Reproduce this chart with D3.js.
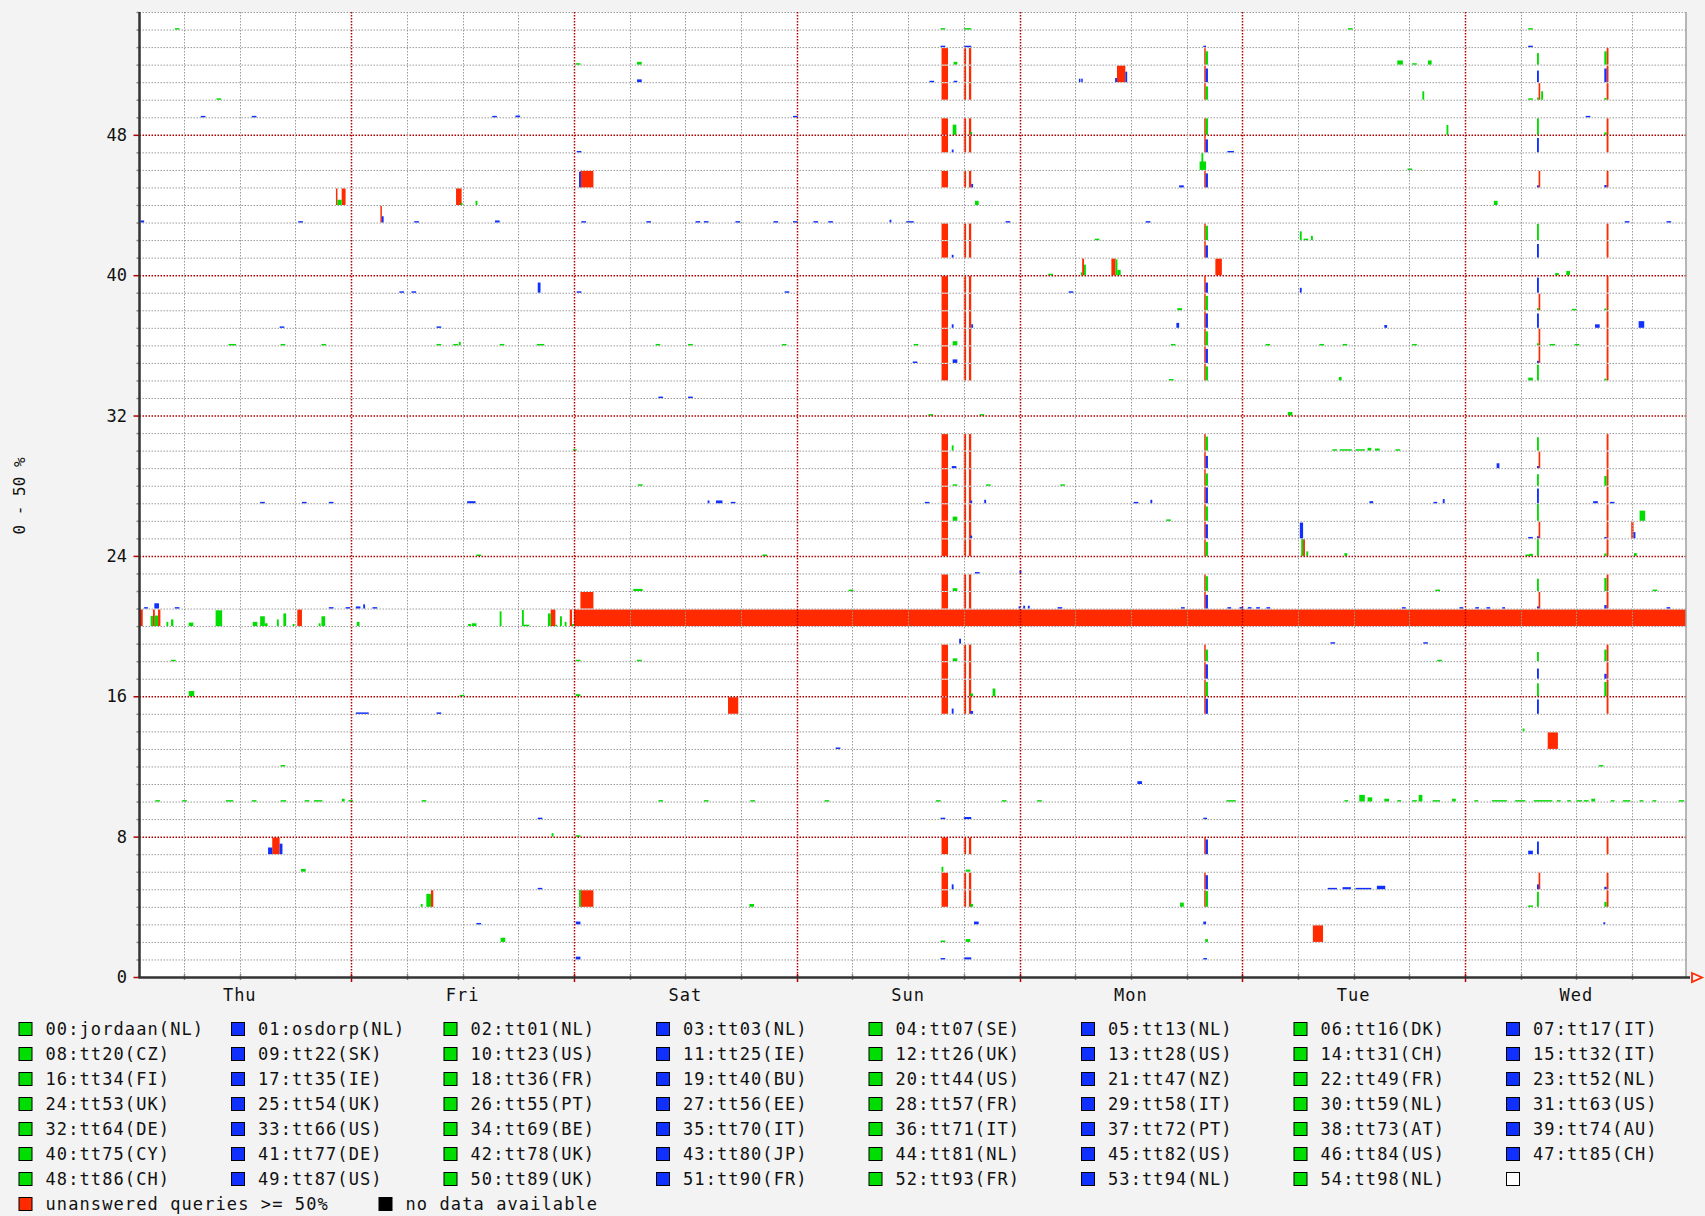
<!DOCTYPE html>
<html><head><meta charset="utf-8">
<script src="https://cdn.jsdelivr.net/npm/d3@7"></script>
<style>body{margin:0;background:#f3f3f3;overflow:hidden}</style>
</head><body><svg id="c" width="1705" height="1216"></svg>
<script>
// ---------- data ----------
const hosts = ["jordaan(NL)","osdorp(NL)","tt01(NL)","tt03(NL)","tt07(SE)","tt13(NL)","tt16(DK)","tt17(IT)",
"tt20(CZ)","tt22(SK)","tt23(US)","tt25(IE)","tt26(UK)","tt28(US)","tt31(CH)","tt32(IT)",
"tt34(FI)","tt35(IE)","tt36(FR)","tt40(BU)","tt44(US)","tt47(NZ)","tt49(FR)","tt52(NL)",
"tt53(UK)","tt54(UK)","tt55(PT)","tt56(EE)","tt57(FR)","tt58(IT)","tt59(NL)","tt63(US)",
"tt64(DE)","tt66(US)","tt69(BE)","tt70(IT)","tt71(IT)","tt72(PT)","tt73(AT)","tt74(AU)",
"tt75(CY)","tt77(DE)","tt78(UK)","tt80(JP)","tt81(NL)","tt82(US)","tt84(US)","tt85(CH)",
"tt86(CH)","tt87(US)","tt89(UK)","tt90(FR)","tt93(FR)","tt94(NL)","tt98(NL)"];
const dayLabels = ["Thu","Fri","Sat","Sun","Mon","Tue","Wed"];
const yTickLabels = [0,8,16,24,32,40,48];
const hourDomain = [1.2, 167.8];            // hours since Thu 00:00
const yAxisTitle = "0 - 50 %";
const legendExtra = ["unanswered queries >= 50%","no data available"];

// unanswered >= 50% : [host, startHour, endHour]
const outages = [
 [20,1.2,1.55],[20,2.65,2.85],[20,3.2,3.45],[20,18.2,18.7],[20,45.5,46.0],[20,47.55,47.8],[20,48.0,167.8],
 [44,22.36,22.52],[44,22.98,23.4],[43,27.15,27.3],[44,35.3,35.9],[45,48.7,50.1],[21,48.7,50.1],[4,48.7,50.1],
 [7,15.5,16.3],[4,32.6,32.85],[15,64.6,65.7],[51,106.5,107.4],[40,102.75,102.95],[40,105.9,106.35],
 [40,117.1,117.8],[24,126.55,126.75],[2,127.6,128.7],[13,152.9,154.0],[25,161.9,162.15]
];
// hosts that failed together
const outageGroup = [4,5,7,15,16,17,18,21,22,24,25,26,27,28,29,30,34,35,36,37,38,39,41,42,45,47,48,50,51,52];
const groupOutageSpans = [[87.6,88.3],[90.0,90.25],[90.55,90.8],[115.9,116.05],[159.25,159.45]];
const monColSpan = [116.05,116.3];
const monColPct  = [45,40,42,43,41,41,33,39,42,40,40,41,45,35,35,40,40,40,40,41,41,29,35,41,40,37,47,38,39,38];
const wedColSpan = [151.75,151.95];
const wedColPct  = [43,14,36,41,37,29,26,6,35,48,6,48,42,33,6,38,45,6,6,41,6,43,39,46,6,41,47,6,33,33];
const wedRedSpan = [151.92,152.1];
const wedRedHosts = [50,45,38,36,35,29,25,21,5];
const wed2ColSpan = [159.0,159.25];
const wed2ColPct = [14,7,0,0,41,14,33,10,37,7,4,0,0,28,0,0,5,0,0,0,5,0,0,0,7,0,7,5,39,38];

// answered-but-lost percentage (0-50): [host, startHour, endHour, pct]
const samples = [
 [54,5.0,5.5,4],[52,48.2,48.7,4],[52,54.8,55.3,8],[51,54.8,55.3,8],[50,9.5,10.0,4],[49,7.8,8.3,4],[49,13.3,13.8,4],
 [49,39.2,39.7,4],[49,41.7,42.2,5],[47,48.3,48.8,4],[45,48.55,48.75,45],[44,22.52,22.98,15],[43,27.3,27.5,18],
 [44,35.8,36.0,6],[44,37.4,37.6,12],[43,1.3,1.7,6],[43,18.3,18.8,4],[43,30.8,31.3,4],[43,39.5,40.0,6],[43,48.8,49.3,4],
 [43,55.8,56.3,4],[39,29.2,29.7,4],[39,30.5,31.0,4],[39,44.1,44.4,29],[39,48.3,48.8,4],[37,16.3,16.8,4],[37,33.2,33.7,4],
 [36,10.8,11.6,4],[36,16.4,16.9,4],[36,20.8,21.3,4],[36,33.2,33.7,4],[36,35.0,35.5,4],[36,35.6,35.8,10],[36,40.0,40.5,4],
 [36,44.0,44.8,4],[36,56.8,57.3,4],[30,47.9,48.3,4],[28,54.9,55.4,4],
 [27,14.2,14.7,4],[27,18.7,19.2,4],[27,21.6,22.1,4],[27,36.5,37.4,6],[24,37.5,38.0,4],[22,54.4,55.4,6],
 [21,1.7,2.1,4],[21,2.8,3.3,15],[21,5.0,5.5,4],[21,21.6,22.1,4],[21,23.4,23.9,4],[21,24.5,25.0,6],[21,25.3,25.5,12],[21,26.3,26.8,4],
 [20,2.4,2.65,29],[20,2.85,3.2,30],[20,4.1,4.3,12],[20,4.6,4.85,19],[20,6.5,7.0,10],[20,9.4,10.1,45],[20,13.4,13.9,12],
 [20,14.2,14.7,28],[20,14.7,15.0,8],[20,16.0,16.2,19],[20,16.7,17.0,36],[20,17.7,17.9,6],[20,20.8,21.2,28],[20,20.5,20.7,8],
 [20,24.6,24.9,12],[20,36.6,36.9,6],[20,37.0,37.5,8],[20,40.0,40.2,42],[20,42.4,42.6,46],[20,42.6,43.2,4],[20,45.2,45.5,36],
 [20,46.0,46.2,4],[20,46.5,46.7,28],[20,47.0,47.2,12],[20,47.8,48.0,6],
 [18,4.6,5.1,4],[18,48.2,48.7,4],[18,54.8,55.3,4],[16,6.5,7.1,15],[16,35.7,36.2,4],[16,48.2,48.7,6],[15,24.5,25.9,4],[15,33.2,33.7,4],
 [12,16.4,16.9,4],[10,2.9,3.4,4],[10,5.8,6.3,4],[10,10.5,11.3,4],[10,13.3,13.8,4],[10,16.4,17.0,4],[10,19.0,19.5,4],[10,20.0,20.9,4],
 [10,23.0,23.3,8],[10,23.7,24.2,4],[10,31.6,32.1,4],[9,44.1,44.6,4],[7,15.05,15.5,19],[7,16.3,16.6,30],[8,45.6,45.8,10],[8,48.2,48.7,4],
 [6,18.6,19.1,8],[5,44.1,44.6,4],[4,31.5,31.7,8],[4,32.1,32.6,37],[4,48.55,48.75,48],[3,37.5,38.0,4],[3,48.2,48.7,8],[2,40.1,40.6,12],[1,48.2,48.7,8],
 [54,87.5,88.0,4],[54,90.0,90.8,4],[53,87.5,88.0,4],[53,90.0,90.8,4],[52,88.9,89.3,8],[51,86.3,86.8,4],[51,88.9,89.3,4],[49,71.6,72.1,4],
 [48,88.8,89.2,29],[48,90.7,90.9,8],[47,88.7,88.9,8],[45,90.8,91.0,10],[44,91.2,91.6,12],
 [43,61.1,61.6,4],[43,62.0,62.5,4],[43,65.4,65.9,4],[43,69.5,70.0,4],[43,71.6,72.1,4],[43,73.8,74.3,4],[43,75.4,75.9,4],[43,82.0,82.2,8],
 [43,83.8,84.6,4],[43,94.5,95.0,4],[43,109.6,110.1,4],[41,88.7,88.9,8],[42,104.1,104.6,4],
 [40,102.6,102.75,8],[40,102.95,103.15,30],[40,106.35,106.55,45],[40,106.55,106.9,15],[40,99.1,99.6,4],[39,70.7,71.2,4],[39,101.3,101.8,4],
 [51,102.4,102.55,10],[51,102.65,102.8,10],[51,106.3,106.5,12],[51,107.4,107.6,30],
 [37,88.7,88.9,10],[37,90.8,91.0,10],[36,60.3,60.8,4],[36,70.4,70.9,4],[36,84.6,85.1,4],[36,88.8,89.3,12],[36,112.3,112.8,4],
 [35,84.5,85.0,4],[35,88.8,89.3,10],[34,112.1,112.6,4],[33,57.1,57.6,4],[33,60.3,60.8,4],[32,86.2,86.7,4],[32,91.7,92.2,4],
 [30,88.7,88.9,15],[29,88.7,89.2,6],[28,88.8,89.3,4],[28,92.4,92.9,4],[28,100.4,100.9,4],
 [27,62.4,62.6,8],[27,63.3,64.0,8],[27,64.9,65.4,4],[27,85.8,86.3,4],[27,90.7,90.9,8],[27,92.2,92.4,10],[27,108.3,108.8,4],[27,110.1,110.3,10],
 [26,88.8,89.3,12],[26,111.8,112.3,4],[25,90.7,90.9,8],[24,68.3,68.8,4],[23,91.2,91.7,4],[23,96.0,96.2,8],[22,77.6,78.1,4],[22,88.8,89.3,8],
 [21,95.9,96.1,6],[21,96.4,96.6,8],[21,96.9,97.1,8],[21,100.1,100.6,4],[19,89.5,89.7,14],[18,88.8,89.3,8],[16,93.1,93.4,22],[16,90.7,91.0,8],
 [15,88.7,88.9,15],[15,90.7,91.0,8],[13,76.2,76.7,4],[11,108.7,109.2,8],
 [10,57.1,57.6,4],[10,62.0,62.5,4],[10,67.0,67.5,4],[10,75.0,75.5,4],[10,87.0,87.5,4],[10,94.1,94.6,4],[10,97.9,98.4,4],
 [9,87.5,88.0,4],[9,90.0,90.8,6],[6,87.6,87.8,14],[6,90.2,90.7,6],[5,88.7,88.9,14],[4,66.9,67.4,8],[4,90.7,91.0,8],[3,91.1,91.6,8],
 [2,87.5,88.0,4],[2,90.2,90.7,8],[1,87.5,88.0,4],[1,90.0,90.8,6],
 [54,131.4,131.9,4],[54,150.8,151.3,4],[53,150.8,151.3,4],[53,115.8,116.1,4],[52,136.7,137.3,12],[52,138.3,138.8,4],[52,140.0,140.4,12],
 [50,139.4,139.6,24],[50,150.8,151.3,4],[50,152.2,152.4,24],[49,157.0,157.5,4],[48,142.0,142.2,28],[47,118.4,119.1,4],
 [46,115.6,115.8,48],[46,115.4,116.1,24],[46,137.8,138.3,4],[45,113.2,113.7,6],[44,147.1,147.5,12],[43,161.2,161.7,4],[43,165.7,166.2,4],
 [42,126.2,126.4,25],[42,126.6,127.1,4],[42,127.4,127.6,12],[40,153.7,154.1,6],[40,154.9,155.3,12],[39,126.2,126.4,14],
 [38,113.0,113.5,6],[38,155.5,156.0,4],[37,112.9,113.2,14],[37,135.3,135.6,8],[37,158.0,158.5,10],[37,162.7,163.3,19],
 [36,122.5,123.0,4],[36,128.3,128.8,4],[36,130.8,131.3,4],[36,138.3,138.8,4],[36,153.1,153.7,4],[36,155.8,156.3,4],
 [34,130.4,130.7,10],[34,150.8,151.3,8],[32,124.9,125.4,10],
 [30,129.7,130.2,4],[30,130.5,131.8,4],[30,132.2,133.2,4],[30,133.5,133.9,8],[30,134.3,134.8,6],[30,136.5,137.0,4],[29,147.4,147.7,14],
 [27,133.7,134.1,6],[27,140.6,141.0,4],[27,141.6,141.8,12],[27,157.8,158.3,6],[27,159.6,160.1,4],[26,162.8,163.4,29],
 [25,126.2,126.55,45],[25,150.8,151.3,4],[25,162.15,162.35,18],[24,126.35,126.55,48],[24,126.9,127.1,13],[24,131.0,131.3,8],
 [24,150.5,150.9,4],[24,150.9,151.3,6],[24,162.2,162.5,8],[22,140.8,141.3,4],[22,164.2,164.7,4],
 [21,113.4,113.8,4],[21,118.4,118.8,4],[21,119.7,120.1,4],[21,120.6,121.0,4],[21,121.5,121.9,4],[21,122.6,123.0,4],[21,137.2,137.6,4],
 [21,143.4,143.8,4],[21,145.1,145.5,4],[21,146.3,146.7,4],[21,148.0,148.3,4],[21,165.7,166.1,4],
 [19,129.5,130.0,4],[19,139.5,140.0,4],[18,141.0,141.5,4],[14,150.2,150.4,8],[12,158.4,158.9,4],
 [10,118.3,119.3,4],[10,131.0,131.4,4],[10,132.6,133.2,19],[10,133.5,134.0,12],[10,135.3,135.8,8],[10,136.7,137.1,4],[10,138.3,138.8,4],
 [10,139.0,139.4,19],[10,140.5,141.3,4],[10,142.6,143.0,8],[10,145.0,145.4,4],[10,146.9,148.5,4],[10,149.4,150.5,4],[10,151.4,153.4,4],
 [10,153.9,154.3,4],[10,155.0,155.4,4],[10,156.0,156.6,4],[10,156.8,157.3,4],[10,157.6,158.0,8],[10,159.7,160.1,4],[10,161.0,161.8,4],
 [10,162.8,163.2,4],[10,164.2,164.6,4],[10,167.0,167.6,4],
 [9,115.8,116.2,4],[7,150.8,151.3,10],[5,129.2,130.2,4],[5,130.8,131.7,6],[5,132.2,133.9,4],[5,134.5,135.4,10],
 [4,113.3,113.7,12],[4,150.8,151.3,4],[3,115.8,116.1,8],[3,158.9,159.1,6],[2,116.0,116.3,8],[1,115.8,116.2,4]
];

// ---------- build ----------
const allOutages = outages.slice();
outageGroup.forEach(h => groupOutageSpans.forEach(s => allOutages.push([h, s[0], s[1]])));
wedRedHosts.forEach(h => allOutages.push([h, wedRedSpan[0], wedRedSpan[1]]));
const allSamples = samples.slice();
outageGroup.forEach((h,i) => {
  if (monColPct[i]) allSamples.push([h, monColSpan[0], monColSpan[1], monColPct[i]]);
  if (wedColPct[i]) allSamples.push([h, wedColSpan[0], wedColSpan[1], wedColPct[i]]);
  if (wed2ColPct[i]) allSamples.push([h, wed2ColSpan[0], wed2ColSpan[1], wed2ColPct[i]]);
});

const GREEN = "#00dd00", BLUE = "#1030ff", RED = "#ff2a00";
const hostColor = h => (h % 2 === 0 ? GREEN : BLUE);
const FONT = "'DejaVu Sans Mono', monospace";

const svg = d3.select("#c");
const pLeft = 139.5, pRight = 1686, pTop = 12, pBottom = 977;
const x = d3.scaleLinear().domain(hourDomain).range([pLeft, pRight]);
const y = d3.scaleLinear().domain([0, hosts.length]).range([pBottom, pTop]);

svg.append("rect").attr("width",1705).attr("height",1216).attr("fill","#f3f3f3");
svg.append("rect").attr("x",pLeft).attr("y",pTop).attr("width",pRight-pLeft).attr("height",pBottom-pTop).attr("fill","#fff");

// bars
const bars = svg.append("g");
bars.selectAll("rect.o").data(allOutages).join("rect").attr("class","o")
  .attr("x", d => x(d[1])).attr("width", d => Math.max(1.5, x(d[2]) - x(d[1])))
  .attr("y", d => y(d[0] + 1) + 1).attr("height", d => y(d[0]) - y(d[0] + 1) - 1)
  .attr("fill", RED);
bars.selectAll("rect.s").data(allSamples).join("rect").attr("class","s")
  .attr("x", d => x(d[1])).attr("width", d => Math.max(1.5, x(d[2]) - x(d[1])))
  .attr("y", d => y(d[0] + d[3] / 50)).attr("height", d => Math.max(1.5, y(d[0]) - y(d[0] + d[3] / 50)))
  .attr("fill", d => hostColor(d[0]));

// grid
const grid = svg.append("g");
const rows = d3.range(1, hosts.length + 1);
grid.selectAll("line.h").data(rows).join("line")
  .attr("x1", pLeft).attr("x2", pRight).attr("y1", d => y(d) + 0.5).attr("y2", d => y(d) + 0.5)
  .attr("stroke", d => d % 8 === 0 ? "#b00000" : "#9a9a9a").attr("stroke-width", d => d % 8 === 0 ? 1.5 : 1)
  .attr("stroke-dasharray", "1.5,1.5");
const vt = d3.range(6, hourDomain[1], 6);
grid.selectAll("line.v").data(vt).join("line")
  .attr("y1", pTop).attr("y2", pBottom).attr("x1", d => Math.round(x(d)) + 0.5).attr("x2", d => Math.round(x(d)) + 0.5)
  .attr("stroke", d => d % 24 === 0 ? "#b00000" : "#9a9a9a").attr("stroke-width", d => d % 24 === 0 ? 1.5 : 1)
  .attr("stroke-dasharray", "1.5,1.5");
grid.append("line").attr("x1", pRight).attr("x2", pRight).attr("y1", pTop).attr("y2", pBottom).attr("stroke","#a0a0a0").attr("stroke-width",1.5);

// axes
const ax = svg.append("g");
ax.selectAll("line.yt").data(d3.range(0, hosts.length + 1)).join("line")
  .attr("x1", d => d % 8 === 0 ? pLeft - 6 : pLeft - 3).attr("x2", pLeft).attr("y1", d => y(d) + 0.5).attr("y2", d => y(d) + 0.5)
  .attr("stroke", d => d % 8 === 0 ? "#b00000" : "#888").attr("stroke-width", 1.5);
ax.selectAll("line.xt").data(vt).join("line")
  .attr("x1", d => Math.round(x(d)) + 0.5).attr("x2", d => Math.round(x(d)) + 0.5)
  .attr("y1", pBottom - 3).attr("y2", d => d % 24 === 0 ? pBottom + 5 : pBottom + 3)
  .attr("stroke", d => d % 24 === 0 ? "#b00000" : "#888").attr("stroke-width", 1.5);
ax.append("line").attr("x1", pLeft).attr("x2", pLeft).attr("y1", pTop).attr("y2", pBottom + 1).attr("stroke","#333").attr("stroke-width",2.5);
ax.append("line").attr("x1", pLeft - 1).attr("x2", pRight + 4).attr("y1", pBottom + 0.5).attr("y2", pBottom + 0.5).attr("stroke","#333").attr("stroke-width",2.5);
ax.append("path").attr("d", `M${pRight+6},${pBottom-4} L${pRight+16},${pBottom+0.5} L${pRight+6},${pBottom+5} Z`)
  .attr("fill","none").attr("stroke", RED).attr("stroke-width", 1.8);

// tick labels
ax.selectAll("text.yl").data(yTickLabels).join("text")
  .attr("x", 127).attr("y", d => y(d) + 6).attr("text-anchor","end")
  .attr("font-family", FONT).attr("font-size", 17).attr("fill","#111").text(d => d);
ax.selectAll("text.xl").data(dayLabels).join("text")
  .attr("x", (d,i) => x(i * 24 + 12)).attr("y", 1001).attr("text-anchor","middle")
  .attr("font-family", FONT).attr("font-size", 17).attr("letter-spacing", 1).attr("fill","#111").text(d => d);
svg.append("text").attr("transform", `translate(25,496) rotate(-90)`).attr("text-anchor","middle")
  .attr("font-family", FONT).attr("font-size", 16).attr("fill","#111").text(yAxisTitle);

// legend
const lg = svg.append("g");
const colW = 212.5, legRowH = 25, lx0 = 18.5, ly0 = 1022;
const items = hosts.map((h,i) => ({label: String(i).padStart(2,"0") + ":" + h, color: hostColor(i)}));
items.push({label: "", color: "#fff"});
const it = lg.selectAll("g.it").data(items).join("g")
  .attr("transform", (d,i) => `translate(${lx0 + (i % 8) * colW},${ly0 + Math.floor(i / 8) * legRowH})`);
it.append("rect").attr("x",0.5).attr("y",0.5).attr("width",13).attr("height",13).attr("fill", d => d.color).attr("stroke","#000").attr("stroke-width",1);
it.append("text").attr("x", 27).attr("y", 13).attr("font-family", FONT).attr("font-size", 17).attr("letter-spacing", 1.1)
  .attr("fill","#111").text(d => d.label);
const ex = lg.selectAll("g.ex").data(legendExtra).join("g")
  .attr("transform", (d,i) => `translate(${lx0 + i * 360},${ly0 + 7 * legRowH})`);
ex.append("rect").attr("x",0.5).attr("y",0.5).attr("width",13).attr("height",13).attr("fill", (d,i) => i === 0 ? RED : "#000").attr("stroke","#000");
ex.append("text").attr("x", 27).attr("y", 13).attr("font-family", FONT).attr("font-size", 17).attr("letter-spacing", 1.1)
  .attr("fill","#111").text(d => d);
</script></body></html>
